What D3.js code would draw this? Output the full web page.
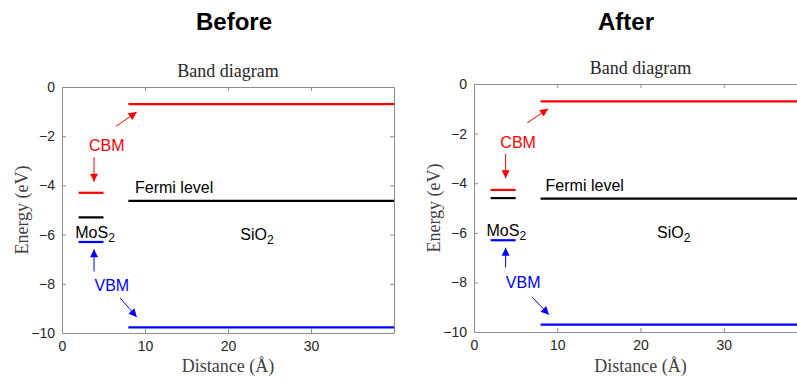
<!DOCTYPE html>
<html>
<head>
<meta charset="utf-8">
<script src="https://cdn.jsdelivr.net/npm/d3@7"></script>
<style>
body { margin: 0; background: #fff; }
text { font-family: "Liberation Sans", Arial, sans-serif; }
.serif { font-family: "Liberation Serif", "Times New Roman", serif; }
</style>
</head>
<body>
<svg id="svg" width="797" height="378"></svg>
<script>
// band energies (eV), order: CBM, Fermi level, VBM
var bandNames = ["CBM", "Fermi level", "VBM"]
var mos2X = [2, 5]
var sio2X = [8, 40]
var beforeMoS2 = [-4.3, -5.3, -6.3]
var beforeSiO2 = [-0.7, -4.63, -9.77]
var afterMoS2 = [-4.27, -4.6, -6.3]
var afterSiO2 = [-0.7, -4.62, -9.7]
var xTicks = [0, 10, 20, 30, 40]
var yTicks = [0, -2, -4, -6, -8, -10]
var panelTitles = ["Before", "After"]

var bandColors = ["#ff0000", "#000000", "#0000ff"]

var svg = d3.select("#svg")

var defs = svg.append("defs")
bandColors.forEach(function (c, i) {
	defs.append("marker")
		.attr("id", "arr" + i)
		.attr("viewBox", "0 0 10 10")
		.attr("refX", 10).attr("refY", 5)
		.attr("markerUnits", "userSpaceOnUse")
		.attr("markerWidth", 9).attr("markerHeight", 8)
		.attr("orient", "auto")
		.append("path")
		.attr("d", "M0,0 L10,5 L0,10 z")
		.style("fill", c)
})

function panel(o) {
	var x = d3.scaleLinear().domain([0, 40]).range(o.xr)
	var y = d3.scaleLinear().domain([-10, 0]).range(o.yr)
	var g = svg.append("g")

	// big title
	svg.append("text")
		.attr("x", o.titleX).attr("y", 30)
		.attr("text-anchor", "middle")
		.style("font-size", "24px").style("font-weight", "bold")
		.text(o.title)

	g.append("text").attr("class", "serif")
		.attr("x", (o.xr[0] + o.xr[1]) / 2).attr("y", o.yr[1] - 10)
		.attr("text-anchor", "middle")
		.style("font-size", "18px").style("fill", "#262626")
		.text("Band diagram")

	// axes with inward ticks, full box
	var ax = g.append("g").style("color", "#8c8c8c")
	ax.append("g").attr("transform", "translate(0," + o.yr[0] + ")")
		.call(d3.axisBottom(x).tickValues(xTicks).tickSizeInner(-4).tickSizeOuter(0).tickPadding(8))
	ax.append("g").attr("transform", "translate(0," + o.yr[1] + ")")
		.call(d3.axisTop(x).tickValues(xTicks).tickSizeInner(-4).tickSizeOuter(0).tickFormat(""))
	ax.append("g").attr("transform", "translate(" + o.xr[0] + ",0)")
		.call(d3.axisLeft(y).tickValues(yTicks).tickSizeInner(-4).tickSizeOuter(0).tickPadding(7))
	ax.append("g").attr("transform", "translate(" + o.xr[1] + ",0)")
		.call(d3.axisRight(y).tickValues(yTicks).tickSizeInner(-4).tickSizeOuter(0).tickFormat(""))
	ax.selectAll("text")
		.style("font-size", "14px").style("fill", "#262626")
		.style("font-family", "'Liberation Sans', Arial, sans-serif")
	ax.selectAll(".tick text").filter(function (d) { return d === 40 }).remove()

	g.append("text").attr("class", "serif")
		.attr("x", (o.xr[0] + o.xr[1]) / 2).attr("y", 372)
		.attr("text-anchor", "middle")
		.style("font-size", "18px").style("fill", "#404040")
		.text("Distance (\u00c5)")
	g.append("text").attr("class", "serif")
		.attr("transform", "translate(" + (o.xr[0] - 34) + "," + (o.yr[0] + o.yr[1]) / 2 + ") rotate(-90)")
		.attr("text-anchor", "middle")
		.style("font-size", "18px").style("fill", "#404040")
		.text("Energy (eV)")

	// band levels
	var levels = []
	o.mos2.forEach(function (v, i) { levels.push({ x: mos2X, y: v, c: bandColors[i] }) })
	o.sio2.forEach(function (v, i) { levels.push({ x: sio2X, y: v, c: bandColors[i] }) })
	g.selectAll(".lvl").data(levels).enter().append("line")
		.attr("x1", function (d) { return x(d.x[0]) })
		.attr("x2", function (d) { return x(d.x[1]) })
		.attr("y1", function (d) { return y(d.y) })
		.attr("y2", function (d) { return y(d.y) })
		.style("stroke", function (d) { return d.c })
		.style("stroke-width", 2.2)

	// annotation arrows
	o.arrows.forEach(function (a) {
		g.append("line")
			.attr("x1", x(a[0])).attr("y1", y(a[1]))
			.attr("x2", x(a[2])).attr("y2", y(a[3]))
			.style("stroke", bandColors[a[4]]).style("stroke-width", 1)
			.attr("marker-end", "url(#arr" + a[4] + ")")
	})

	// labels
	function label(t, px, py, col, anchor, sub) {
		var tx = g.append("text")
			.attr("x", x(px)).attr("y", y(py))
			.attr("dy", "0.35em")
			.attr("text-anchor", anchor)
			.style("font-size", "16px").style("fill", col)
		tx.append("tspan").text(t)
		if (sub) tx.append("tspan").attr("dy", "4").style("font-size", "12px").text(sub)
	}
	var L = o.labels
	label(bandNames[0], L.cbm[0], L.cbm[1], bandColors[0], "middle")
	label(bandNames[1], L.fermi[0], L.fermi[1], "#000", "start")
	label(bandNames[2], L.vbm[0], L.vbm[1], bandColors[2], "middle")
	label("MoS", L.mos2[0], L.mos2[1], "#000", "start", "2")
	label("SiO", L.sio2[0], L.sio2[1], "#000", "middle", "2")
}

panel({
	title: panelTitles[0], titleX: 234, xr: [62, 394], yr: [333, 87],
	mos2: beforeMoS2, sio2: beforeSiO2,
	arrows: [[6.5, -1.6, 9.0, -1.02, 0], [3.86, -2.85, 3.86, -3.85, 0],
		[3.86, -7.5, 3.86, -6.6, 2], [7.0, -8.58, 9.0, -9.35, 2]],
	labels: { cbm: [5.4, -2.36], fermi: [8.8, -4.1], vbm: [6.0, -8.05], mos2: [1.6, -5.9], sio2: [23.5, -6.0] }
})

panel({
	title: panelTitles[1], titleX: 626, xr: [474, 807], yr: [332, 84],
	mos2: afterMoS2, sio2: afterSiO2,
	arrows: [[6.4, -1.57, 8.9, -1.0, 0], [3.8, -2.82, 3.8, -3.8, 0],
		[3.8, -7.4, 3.8, -6.6, 2], [7.0, -8.6, 9.0, -9.3, 2]],
	labels: { cbm: [5.3, -2.34], fermi: [8.6, -4.1], vbm: [5.9, -8.0], mos2: [1.5, -5.9], sio2: [24.0, -6.0] }
})
</script>
</body>
</html>
